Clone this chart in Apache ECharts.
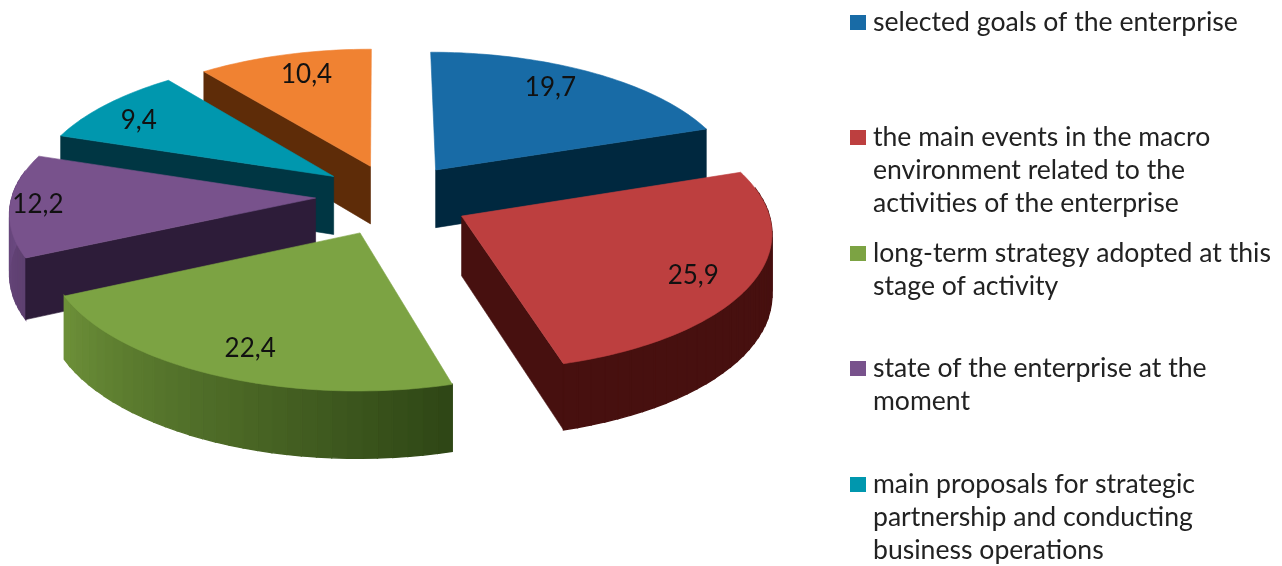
<!DOCTYPE html>
<html><head><meta charset="utf-8">
<style>html,body{margin:0;padding:0;background:#fff}#c{width:1282px;height:566px}</style>
<script src="https://cdn.jsdelivr.net/npm/echarts@6/dist/echarts.min.js"></script>
</head><body><div id="c"></div>
<script>
// ---- data ----
const sliceValues = [19.7, 25.9, 22.4, 12.2, 9.4, 10.4];
const legendNames = [
  ['selected goals of the enterprise'],
  ['the main events in the macro', 'environment related to the', 'activities of the enterprise'],
  ['long-term strategy adopted at this', 'stage of activity'],
  ['state of the enterprise at the', 'moment'],
  ['main proposals for strategic', 'partnership and conducting', 'business operations']
];
// ---- styling and layout ----
const topColors  = ['#186BA6', '#BD3F3F', '#7CA343', '#78528C', '#0097AE', '#F08232'];
const wallColors = ['#00283F', '#47100F', '#33471A', '#2D1C39', '#003643', '#5E2C08'];
const rimFrom    = ['#00283F', '#47100F', '#2F4716', '#5E4070', '#003643', '#5E2C08'];
const rimTo      = ['#00283F', '#47100F', '#6C8F38', '#6F4C86', '#003643', '#5E2C08'];
const explodeX   = [0.187, 0.265, -0.064, -0.212, -0.155, -0.032];
const explodeZ   = [0.22, -0.125, -0.245, 0.007, 0.17, 0.248];
const labelRad   = [0.80, 0.82, 0.82, 0.91, 0.82, 0.80];
const labelDeg   = [32, 120, 203, 267, 303, 343];
const drawOrder  = [5, 4, 3, 0, 1, 2];
const legendY    = [22, 137, 253, 368, 484];
const CX = 380, CY = 199, RX = 304, RY = 135, K = 0.10, H = 59;
const total = sliceValues.reduce((a, b) => a + b, 0);
const rad = d => d * Math.PI / 180;
const starts = [];
sliceValues.reduce((acc, v, i) => { starts[i] = acc; return acc + v / total * 360; }, 0);

function proj(i, r, deg, drop) {
  const t = rad(deg);
  const px = explodeX[i] + r * Math.sin(t);
  const pz = explodeZ[i] + r * Math.cos(t);
  const p = 1 / (1 + K * pz);
  return [CX + RX * px * p, CY - RY * pz * p + (drop ? H * p : 0)];
}
function mix(a, b, f) {
  const c = s => [1, 3, 5].map(n => parseInt(s.substr(n, 2), 16));
  const A = c(a), B = c(b);
  return 'rgb(' + A.map((v, n) => Math.round(v + (B[n] - v) * f)).join(',') + ')';
}
function renderSlice(params, api) {
  const i = api.value(0), v = api.value(1);
  const a0 = starts[i], a1 = a0 + v / total * 360;
  const kids = [];
  const poly = (points, fill, lw) => kids.push({ type: 'polygon', shape: { points }, style: { fill, stroke: fill, lineWidth: lw } });
  const steps = Math.max(6, Math.round((a1 - a0) / 2.5));
  // outer rim: only the part that faces the viewer
  for (let s = 0; s < steps; s++) {
    const d0 = a0 + (a1 - a0) * s / steps, d1 = a0 + (a1 - a0) * (s + 1) / steps;
    if (Math.cos(rad((d0 + d1) / 2)) < 0.2) {
      poly([proj(i, 1, d0), proj(i, 1, d1), proj(i, 1, d1, 1), proj(i, 1, d0, 1)], mix(rimFrom[i], rimTo[i], s / (steps - 1)), 1.4);
    }
  }
  // radial walls: only those that face the viewer
  const wall = d => poly([proj(i, 0, d), proj(i, 1, d), proj(i, 1, d, 1), proj(i, 0, d, 1)], wallColors[i], 0.6);
  if (Math.sin(rad(a0)) < -1e-6) wall(a0);
  if (Math.sin(rad(a1)) > 1e-6) wall(a1);
  const top = [proj(i, 0, a0)];
  for (let s = 0; s <= steps * 2; s++) top.push(proj(i, 1, a0 + (a1 - a0) * s / (steps * 2)));
  poly(top, topColors[i], 0.6);
  const lp = proj(i, labelRad[i], labelDeg[i]);
  kids.push({ type: 'text', x: lp[0], y: lp[1], style: {
    text: v.toFixed(1).replace('.', ','), fill: '#111', font: '26px Lato', align: 'center', verticalAlign: 'middle' } });
  return { type: 'group', children: kids };
}
const legendGraphics = [];
legendNames.forEach((lines, i) => {
  legendGraphics.push({ type: 'rect', x: 850, y: legendY[i] - 7, shape: { width: 16, height: 15 }, style: { fill: topColors[i] } });
  lines.forEach((t, n) => legendGraphics.push({ type: 'text', x: 873, y: legendY[i] + n * 33,
    style: { text: t, fill: '#222', font: '26.6px Lato', verticalAlign: 'middle' } }));
});
const chart = echarts.init(document.getElementById('c'), null, { renderer: 'canvas' });
chart.setOption({
  animation: false,
  backgroundColor: '#fff',
  graphic: legendGraphics,
  series: [{ type: 'custom', coordinateSystem: 'none', renderItem: renderSlice,
    data: drawOrder.map(i => [i, sliceValues[i]]) }]
});
</script></body></html>
